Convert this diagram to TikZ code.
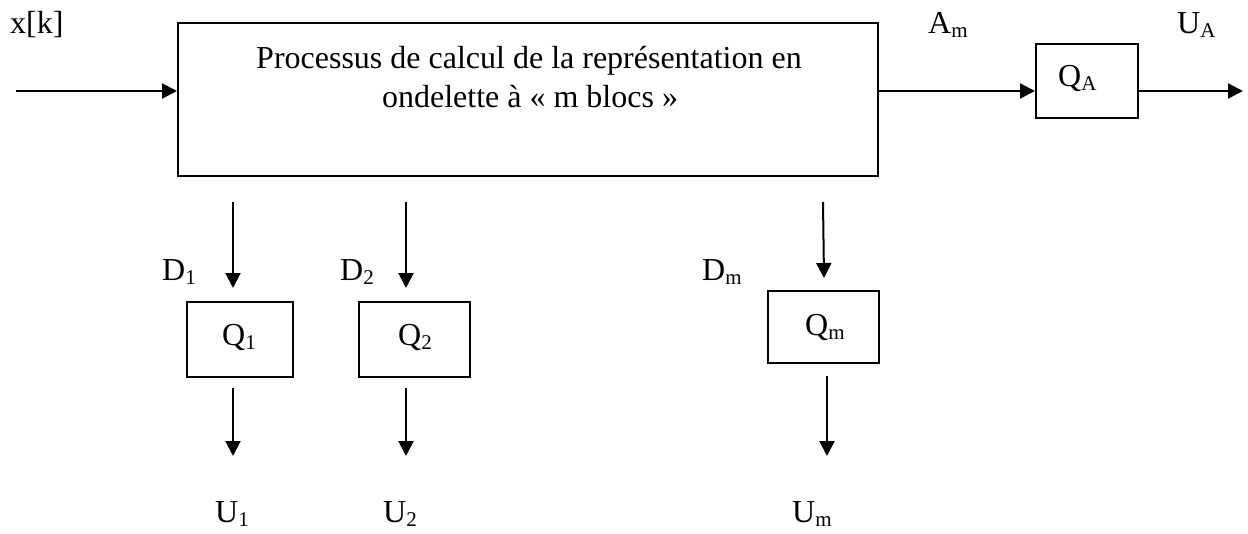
\documentclass[tikz,border=0pt]{standalone}
\usepackage{fontspec}
\setmainfont{Liberation Serif}
\usetikzlibrary{arrows.meta}
\newcommand{\sbs}[1]{\raisebox{-4pt}{\fontsize{21}{21}\selectfont #1}}
\begin{document}
\begin{tikzpicture}[x=1pt,y=-1pt,
  box/.style={draw,line width=2pt,inner sep=0pt},
  lbl/.style={anchor=base west,inner sep=0pt,font=\fontsize{32}{38}\selectfont},
  ctr/.style={anchor=base,inner sep=0pt,font=\fontsize{32}{38}\selectfont},
  arr/.style={line width=2pt,-{Triangle[length=15pt,width=15pt]}}]
\useasboundingbox[fill=white] (0,0) rectangle (1248,533);
% boxes
\node[box,minimum width=700pt,minimum height=153pt] (main) at (528,99.5) {};
\node[box,minimum width=102pt,minimum height=74pt] (qa) at (1087,81) {};
\node[box,minimum width=106pt,minimum height=75pt] (q1) at (240,339.5) {};
\node[box,minimum width=111pt,minimum height=75pt] (q2) at (414.5,339.5) {};
\node[box,minimum width=111pt,minimum height=72pt] (qm) at (823.5,327) {};
% main text
\node[ctr] (mt1) at (529,68) {Processus de calcul de la représentation en};
\node[ctr] (mt2) at (530,107) {ondelette à « m blocs »};
% box labels
\node[lbl] (lqa) at (1058,86) {Q\sbs{A}};
\node[lbl] (lq1) at (222,345) {Q\sbs{1}};
\node[lbl] (lq2) at (398,345) {Q\sbs{2}};
\node[lbl] (lqm) at (805,335) {Q\sbs{m}};
% signal labels
\node[lbl] (xk) at (10,33) {x[k]};
\node[lbl] (am) at (928,33) {A\sbs{m}};
\node[lbl] (ua) at (1177,33) {U\sbs{A}};
\node[lbl] (d1) at (162,280) {D\sbs{1}};
\node[lbl] (d2) at (340,280) {D\sbs{2}};
\node[lbl] (dm) at (702,280) {D\sbs{m}};
\node[lbl] (u1) at (215,522) {U\sbs{1}};
\node[lbl] (u2) at (383,522) {U\sbs{2}};
\node[lbl] (um) at (792,522) {U\sbs{m}};
% coordinates
\coordinate (in) at (16,91);
\coordinate (out) at (1243,91);
\coordinate (d1s) at (233,202);
\coordinate (d1e) at (233,288);
\coordinate (u1s) at (233,388);
\coordinate (u1e) at (233,456);
\coordinate (d2s) at (406,202);
\coordinate (d2e) at (406,288);
\coordinate (u2s) at (406,388);
\coordinate (u2e) at (406,456);
\coordinate (dms) at (823,202);
\coordinate (dme) at (824,278);
\coordinate (ums) at (827,376);
\coordinate (ume) at (827,456);
% arrows
\draw[arr] (in) -- (in -| main.west);
\draw[arr] (main.east |- in) -- (qa.west |- in);
\draw[arr] (qa.east |- in) -- (out);
\draw[arr] (d1s) -- (d1e);
\draw[arr] (u1s) -- (u1e);
\draw[arr] (d2s) -- (d2e);
\draw[arr] (u2s) -- (u2e);
\draw[arr] (dms) -- (dme);
\draw[arr] (ums) -- (ume);
\end{tikzpicture}
\end{document}
